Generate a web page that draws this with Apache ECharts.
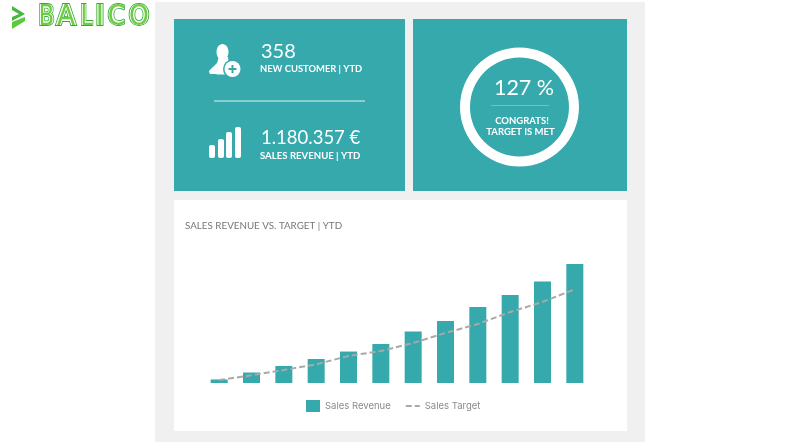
<!DOCTYPE html>
<html><head><meta charset="utf-8">
<style>html,body{margin:0;padding:0;background:#fff}#c{width:800px;height:442px}</style>
<script src="https://cdn.jsdelivr.net/npm/echarts@6/dist/echarts.min.js"></script>
</head><body><div id="c"></div>
<script>
const categories = ['Jan','Feb','Mar','Apr','May','Jun','Jul','Aug','Sep','Oct','Nov','Dec'];
const salesRevenue = [35,104,169,238,312,387,511,615,754,873,1007,1180];
const salesTarget = [30,76,129,185,268,317,397,496,585,704,804,929];
const TEAL = '#35a9ac';
const FONT = 'Lato, "Open Sans", sans-serif';
const LOGO = '"DejaVu Sans", sans-serif';
const t = (x,y,text,size,weight,align,extra) => ({type:'text',x,y,style:Object.assign({text,fill:'#fff',fontFamily:FONT,fontSize:size,fontWeight:weight||'normal',align:align||'left',verticalAlign:'middle'},extra||{})});
const r = (x,y,w,h,fill,rad) => ({type:'rect',shape:{x,y,width:w,height:h,r:rad||0},style:{fill}});
const poly = (points,fill,smooth) => ({type:'polygon',shape:{points,smooth:smooth||0},style:{fill}});
const logoLetters = [['B',46.5,0.8],['A',66,0.95],['L',86.5,0.75],['I',100,1],['C',116.5,0.9],['O',139,0.9]];
const logoEls = [];
logoLetters.forEach(([ch,x,sx]) => {
  logoEls.push(Object.assign(t(x,18,ch,28,'bold','center',{fontFamily:LOGO,fill:'#fff',stroke:'#2fae3a',lineWidth:1.8}),{scaleX:sx}));
  logoEls.push(Object.assign(t(x,18,ch,28,'normal','center',{fontFamily:LOGO,fill:'#6fcb3f'}),{scaleX:sx}));
});
const graphics = [
  r(155,2,490,440,'#f0f0f0'),
  r(174,19,231,172,TEAL), r(413,19,214,172,TEAL), r(174,200,453,231,'#fff'),
  // logo
  poly([[12,6],[25,14],[12,21],[12,17],[19,14],[12,10]],'#45b83f'),
  poly([[12,22],[25,17],[25,21],[12,29]],'#5cc83c'),
  ...logoEls,
  // user icon
  {type:'ellipse',shape:{cx:222.5,cy:52,rx:6,ry:8},style:{fill:'#fff'}},
  poly([[219,57],[217,63],[209,71],[210,74],[228,74],[228,57]],'#fff',0.1),
  {type:'circle',shape:{cx:232.5,cy:69,r:9.5},style:{fill:TEAL}},
  {type:'circle',shape:{cx:232.5,cy:69,r:8},style:{fill:'#fff'}},
  r(228.5,68,8,2,TEAL), r(231.5,65,2,8,TEAL),
  t(261,52,'358',20),
  t(260,68.5,'NEW CUSTOMER | YTD',9.4,'bold'),
  {type:'line',shape:{x1:214,y1:101,x2:365,y2:101},style:{stroke:'#a6dcdd',lineWidth:1.5}},
  r(209,145,6,13,'#fff',2), r(218,139,6,19,'#fff',2), r(226,132,6,26,'#fff',2), r(235,127,6,31,'#fff',2),
  t(261,138,'1.180.357 €',18.5),
  t(260,155.5,'SALES REVENUE | YTD',9.6,'bold'),
  // ring
  {type:'ring',shape:{cx:519.5,cy:107,r:59.5,r0:49.5},style:{fill:'#fff'}},
  t(524,88,'127 %',21.5,'normal','center'),
  {type:'line',shape:{x1:491,y1:105.5,x2:549,y2:105.5},style:{stroke:'#6fc3c5',lineWidth:1}},
  t(522,120.5,'CONGRATS!',9.5,'bold','center'),
  t(520.5,131.5,'TARGET IS MET',9.5,'bold','center'),
  t(185,225.5,'SALES REVENUE VS. TARGET | YTD',9.8,'normal','left',{fill:'#777'})
];
const chart = echarts.init(document.getElementById('c'),null,{renderer:'canvas'});
chart.setOption({
  animation:false,
  backgroundColor:'#fff',
  graphic:{elements:graphics},
  grid:{left:203,width:388,top:262,height:121},
  xAxis:{type:'category',data:categories,show:false},
  yAxis:{type:'value',min:0,max:1200,show:false},
  legend:{left:306,top:400,padding:0,itemWidth:14,itemHeight:12,itemGap:14,
    textStyle:{color:'#8a8a8a',fontSize:9.5,fontFamily:'Inter, sans-serif'},
    data:[{name:'Sales Revenue',icon:'rect'},{name:'Sales Target',itemStyle:{opacity:0}}]},
  series:[
    {name:'Sales Revenue',type:'bar',data:salesRevenue,barWidth:17,itemStyle:{color:TEAL}},
    {name:'Sales Target',type:'line',data:salesTarget,symbol:'none',
     lineStyle:{color:'#a9a9a9',width:2,type:[6,3]},itemStyle:{color:'#a9a9a9'}}
  ]
});
</script></body></html>
